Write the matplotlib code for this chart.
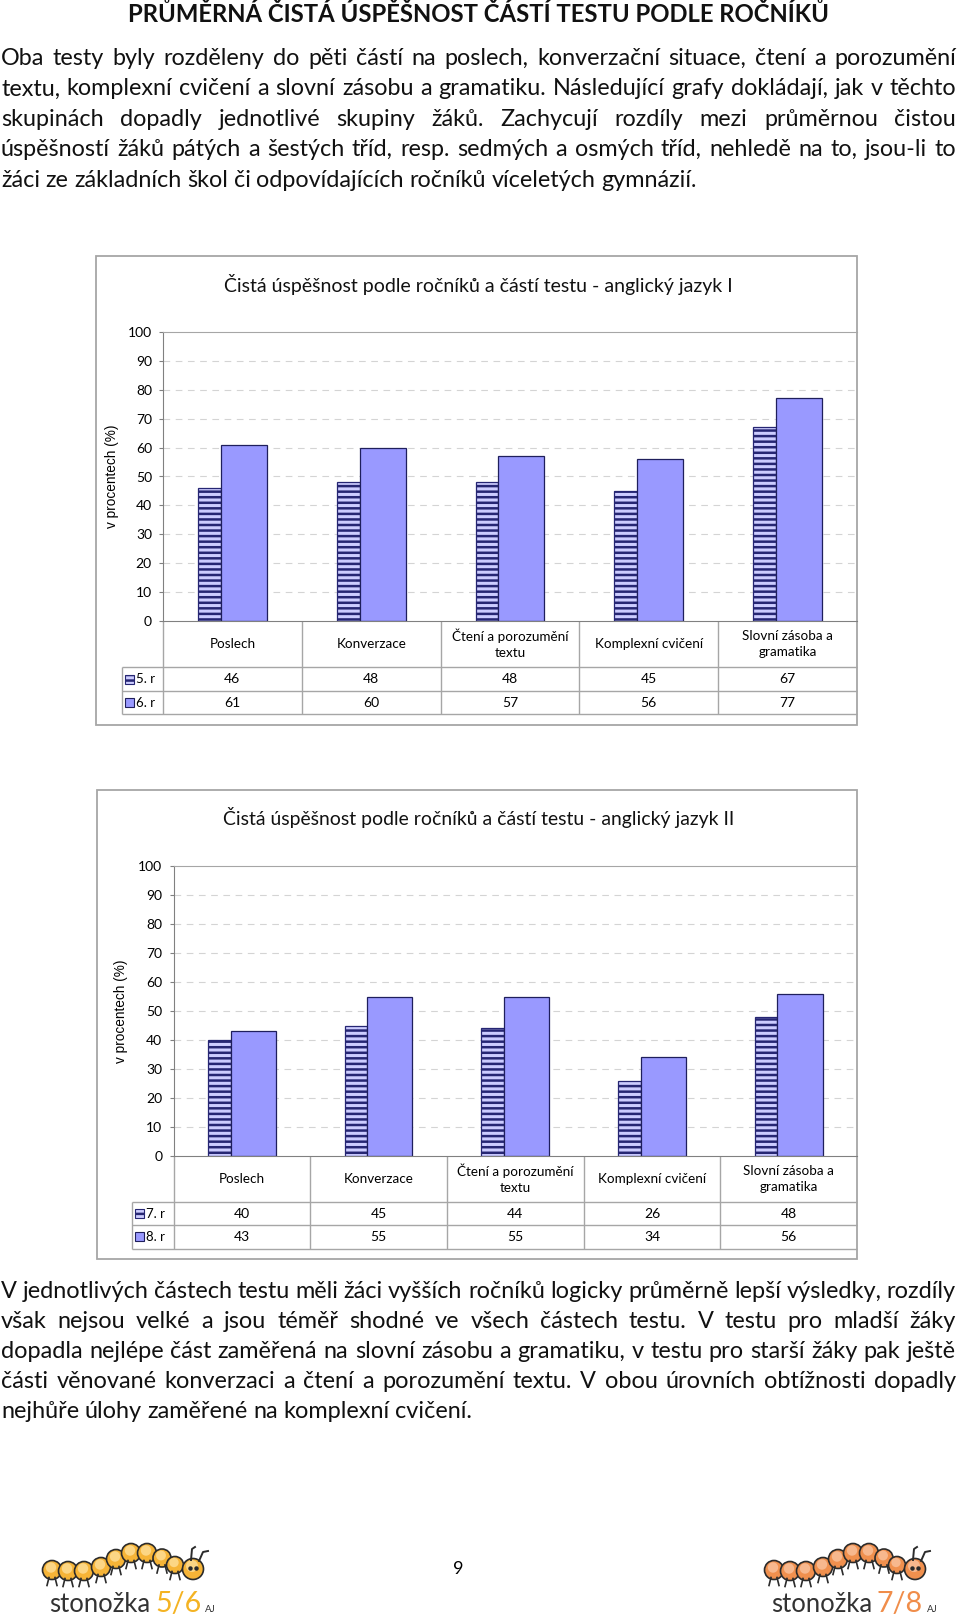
import numpy as np
import matplotlib
matplotlib.use("Agg")
import matplotlib.pyplot as plt
from matplotlib.patches import Rectangle, Circle

# --- data ---
categories = ["Poslech", "Konverzace", "Čtení a porozumění\ntextu",
              "Komplexní cvičení", "Slovní zásoba a\ngramatika"]
grades_1 = ["5. r", "6. r"]
aj1_5r = [46, 48, 48, 45, 67]
aj1_6r = [61, 60, 57, 56, 77]
grades_2 = ["7. r", "8. r"]
aj2_7r = [40, 45, 44, 26, 48]
aj2_8r = [43, 55, 55, 34, 56]

heading = "PRŮMĚRNÁ ČISTÁ ÚSPĚŠNOST ČÁSTÍ TESTU PODLE ROČNÍKŮ"
para_1 = [
    "Oba testy byly rozděleny do pěti částí na poslech, konverzační situace, čtení a porozumění",
    "textu, komplexní cvičení a slovní zásobu a gramatiku. Následující grafy dokládají, jak v těchto",
    "skupinách dopadly jednotlivé skupiny žáků. Zachycují rozdíly mezi průměrnou čistou",
    "úspěšností žáků pátých a šestých tříd, resp. sedmých a osmých tříd, nehledě na to, jsou-li to",
    "žáci ze základních škol či odpovídajících ročníků víceletých gymnázií.",
]
para_2 = [
    "V jednotlivých částech testu měli žáci vyšších ročníků logicky průměrně lepší výsledky, rozdíly",
    "však nejsou velké a jsou téměř shodné ve všech částech testu. V testu pro mladší žáky",
    "dopadla nejlépe část zaměřená na slovní zásobu a gramatiku, v testu pro starší žáky pak ještě",
    "části věnované konverzaci a čtení a porozumění textu. V obou úrovních obtížnosti dopadly",
    "nejhůře úlohy zaměřené na komplexní cvičení.",
]

FONT = "Lato"
W, H = 960, 1621
BORDER = "#A6A6A6"
AXIS = "#808080"
LIGHT = "#CCCCFF"
NAVY = "#262673"
PERI = "#9999FF"
plt.rcParams["hatch.linewidth"] = 1.8

fig = plt.figure(figsize=(W / 100, H / 100), dpi=100)
# page axes in pixel units (y downwards)
bg = fig.add_axes([0, 0, 1, 1])
bg.set_xlim(0, W)
bg.set_ylim(H, 0)
bg.axis("off")
bg.set_zorder(0)
r = fig.canvas.get_renderer()


def fit(t, width):
    w = t.get_window_extent(r).width
    t.set_fontsize(t.get_fontsize() * width / w)


def paragraph(lines, y_first, step, last_width, left=1, right=956):
    tmp = bg.text(0, 0, lines[-1], fontsize=10, family=FONT)
    size = 10 * last_width / tmp.get_window_extent(r).width
    tmp.remove()
    space = size * 100 / 72 * 0.24
    for i, line in enumerate(lines):
        words = line.split()
        ts = [bg.text(0, y_first + i * step, w, fontsize=size, family=FONT,
                      va="baseline", ha="left", color="#111111") for w in words]
        ws = [t.get_window_extent(r).width for t in ts]
        if i < len(lines) - 1:
            gap = (right - left - sum(ws)) / (len(ws) - 1)
        else:
            gap = space
        x = left
        for t, w in zip(ts, ws):
            t.set_x(x)
            x += w + gap


def chart(box, plot, rows, legx, title, title_y, ylab_x, grades, lo, hi):
    bx0, by0, bx1, by1 = box
    bg.add_patch(Rectangle((bx0, by0), bx1 - bx0, by1 - by0, fill=False,
                           ec=BORDER, lw=1.3))
    t = bg.text((bx0 + bx1) / 2 + 2, title_y, title, ha="center", va="baseline",
                family=FONT, fontsize=12, color="#111111")
    fit(t, 508)
    bg.text(ylab_x, (plot[1] + plot[3]) / 2, "v procentech (%)", rotation=90,
            family="Liberation Sans", fontsize=9.8, ha="center", va="center")

    px0, y100, px1, y0 = plot
    ax = fig.add_axes([px0 / W, 1 - y0 / H, (px1 - px0) / W, (y0 - y100) / H])
    ax.set_zorder(1)
    ax.patch.set_alpha(0)
    idx = np.arange(len(categories))
    ax.bar(idx - 0.248, lo, width=0.165, align="edge", facecolor=LIGHT,
           edgecolor=NAVY, hatch="---", lw=0.9)
    ax.bar(idx - 0.083, hi, width=0.331, align="edge", facecolor=PERI,
           edgecolor="#1F1F5C", lw=0.9)
    ax.set_xlim(-0.5, 4.5)
    ax.set_ylim(0, 100)
    ax.set_xticks([])
    ax.set_yticks(range(0, 101, 10))
    ax.yaxis.grid(True, ls=(0, (6, 5)), color="#D4D4D4", lw=0.8)
    gl = ax.yaxis.get_gridlines()
    gl[0].set_visible(False)
    gl[-1].set_visible(False)
    ax.set_axisbelow(True)
    ax.tick_params(axis="y", direction="out", length=3, color=AXIS, pad=5,
                   labelsize=10)
    for lab in ax.get_yticklabels():
        lab.set_family(FONT)
    ax.spines["right"].set_visible(False)
    ax.spines["left"].set_color(AXIS)
    ax.spines["bottom"].set_color(AXIS)
    ax.spines["top"].set_color(BORDER)

    # data table under the plot, x in categories, y in page pixels
    r1, r2, r3 = rows
    tb = fig.add_axes([px0 / W, 1 - r3 / H, (px1 - px0) / W, (r3 - y0) / H])
    tb.set_xlim(-0.5, 4.5)
    tb.set_ylim(r3, y0)
    tb.axis("off")
    unit = (px1 - px0) / len(categories)
    leg = -0.5 - (px0 - legx) / unit
    tb.vlines(idx - 0.5, y0, r3, color=BORDER, lw=1, clip_on=False)
    tb.vlines([leg], r1, r3, color=BORDER, lw=1, clip_on=False)
    tb.hlines([r1, r2, r3], leg, 4.5, color=BORDER, lw=1, clip_on=False)
    for i, c in enumerate(categories):
        tb.text(i, (y0 + r1) / 2, c, ha="center", va="center", family=FONT,
                fontsize=9.7, linespacing=1.4)
        tb.text(i, (r1 + r2) / 2, str(lo[i]), ha="center", va="center",
                family=FONT, fontsize=10)
        tb.text(i, (r2 + r3) / 2, str(hi[i]), ha="center", va="center",
                family=FONT, fontsize=10)
    # legend keys
    for (top, bot), g, style in zip([(r1, r2), (r2, r3)], grades,
                                     [dict(fc=LIGHT, ec=NAVY, hatch="---"),
                                      dict(fc=PERI, ec="#1F1F5C")]):
        yc = (top + bot) / 2
        bg.add_patch(Rectangle((legx + 3, yc - 4.5), 9, 9, lw=0.8, **style))
        bg.text(legx + 14, yc, g, ha="left", va="center", family=FONT,
                fontsize=9.5)


# heading and texts
t = bg.text(479, 22, heading, ha="center", va="baseline", family=FONT,
            fontweight="bold", fontsize=15, color="#111111")
fit(t, 702)
paragraph(para_1, 65, 30.4, 696)
paragraph(para_2, 1298, 30.0, 475)

chart((96, 256, 857, 725), (163, 332, 857, 621), (667, 691, 714.5), 122,
      "Čistá úspěšnost podle ročníků a částí testu - anglický jazyk I", 292, 112,
      grades_1, aj1_5r, aj1_6r)
chart((97, 790, 857, 1259), (173.5, 866, 857, 1156), (1202, 1225, 1248.5), 132,
      "Čistá úspěšnost podle ročníků a částí testu - anglický jazyk II", 825, 121,
      grades_2, aj2_7r, aj2_8r)

bg.text(458, 1574, "9", ha="center", va="baseline", family=FONT, fontsize=13)

# footer logos
BUG = [(9, 27, 9.5), (25, 28, 9.5), (41, 28, 9.5), (58, 24, 9.5), (73, 16, 9.5),
       (88, 10, 9.5), (104, 10, 9.5), (119, 15, 9), (132, 22, 8.5)]


def bug(x0, y0, main, light, label, color):
    ink = "#2b2b2b"
    for dx, dy, rr in BUG:
        cx, cy = x0 + dx, y0 + dy
        bg.plot([cx - 3, cx - 5], [cy + rr - 2, cy + rr + 6], color=ink, lw=1.2)
        bg.plot([cx + 3, cx + 5], [cy + rr - 2, cy + rr + 6], color=ink, lw=1.2)
    for dx, dy, rr in BUG:
        cx, cy = x0 + dx, y0 + dy
        bg.add_patch(Circle((cx, cy), rr, fc=main, ec=ink, lw=1.2))
        bg.add_patch(Circle((cx - 1, cy - 2.5), rr * 0.55, fc=light, ec="none"))
    hx, hy = x0 + 150, y0 + 26
    bg.plot([hx - 2, hx - 1, hx + 2], [hy - 9, hy - 20, hy - 22], color=ink, lw=1.4)
    bg.plot([hx + 6, hx + 10, hx + 15], [hy - 8, hy - 17, hy - 18], color=ink, lw=1.4)
    bg.add_patch(Circle((hx, hy), 10.5, fc=main, ec=ink, lw=1.2))
    bg.add_patch(Circle((hx - 1, hy - 3), 6, fc=light, ec="none"))
    bg.plot([hx - 3, hx + 3], [hy - 1, hy - 1], "o", color=ink, ms=2.2)
    t1 = bg.text(x0 + 6, y0 + 69, "stonožka", ha="left", va="baseline",
                 family=FONT, fontsize=15, color="#333333")
    fit(t1, 101)
    t2 = bg.text(x0 + 112, y0 + 69, label, ha="left", va="baseline",
                 family=FONT, fontsize=19, color=color)
    fit(t2, 46)
    bg.text(x0 + 162, y0 + 69, "AJ", ha="left", va="baseline", family=FONT,
            fontsize=7, color="#333333")


bug(43, 1543, "#F6B437", "#FCD685", "5/6", "#F4B323")
bug(765, 1543, "#F0904E", "#F7B88E", "7/8", "#F08D4A")

plt.savefig("out.png", dpi=100)
